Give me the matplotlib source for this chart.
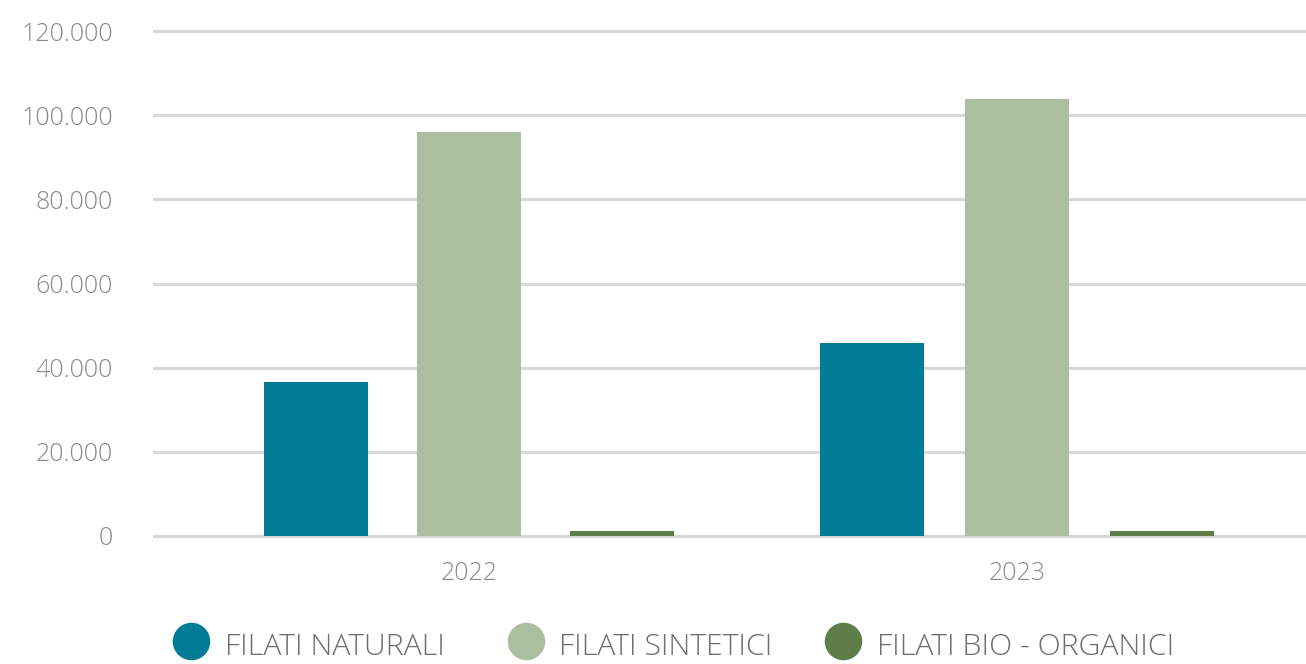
import matplotlib
matplotlib.use("Agg")
import matplotlib.pyplot as plt
from matplotlib.lines import Line2D
import numpy as np

years = ["2022", "2023"]
series = ["FILATI NATURALI", "FILATI SINTETICI", "FILATI BIO - ORGANICI"]
naturali = [36600, 45900]
sintetici = [96000, 103800]
bio = [1100, 1100]
colors = ["#007C97", "#ACBEA0", "#5F7D48"]
yticks = [0, 20000, 40000, 60000, 80000, 100000, 120000]
ytick_labels = ["0", "20.000", "40.000", "60.000", "80.000", "100.000", "120.000"]

plt.rcParams['font.family'] = ['Open Sans', 'DejaVu Sans']
txt = "#8a8a8a"
W, H = 1306, 664

fig = plt.figure(figsize=(W / 100, H / 100), dpi=100)
ax = fig.add_axes([153/W, 1 - 544.4/H, 1 - 153/W, (544.4 - 22.6)/H])

x = np.arange(len(years))
w = 0.19
group_off = np.array([0.279, 0.265])
for i, (vals, c) in enumerate(zip([naturali, sintetici, bio], colors)):
    ax.bar(x + (i - 1) * group_off, vals, width=w, color=c, zorder=3, label=series[i])

ax.set_xlim(-0.577, 1.527)
ax.set_ylim(-2000, 122000)
ax.set_yticks(yticks)
ax.set_yticklabels(ytick_labels)
ax.set_xticks(x)
ax.set_xticklabels(years)
ax.yaxis.grid(True, color="#d9d9d9", linewidth=2.3, zorder=0)
ax.xaxis.grid(False)
for s in ax.spines.values():
    s.set_visible(False)
ax.tick_params(axis='y', length=0, pad=29, labelsize=18, labelcolor=txt)
ax.tick_params(axis='x', length=0, pad=12, labelsize=18, labelcolor=txt)
for lab in ax.get_yticklabels() + ax.get_xticklabels():
    lab.set_fontweight('light')

# legend (manual layout, pixel positions)
circle_x = [191, 526, 843]
text_x = [225, 559, 877]
for cx, tx, c, name in zip(circle_x, text_x, colors, series):
    fig.add_artist(Line2D([cx / W], [1 - 641 / H], transform=fig.transFigure,
                          marker='o', markersize=26, color=c, linestyle=''))
    fig.text(tx / W, 1 - 655 / H, name, fontsize=21.8, fontweight='light',
             color="#6e6e6e", ha='left', va='baseline')

fig.savefig("out.png", dpi=100, facecolor="white")
